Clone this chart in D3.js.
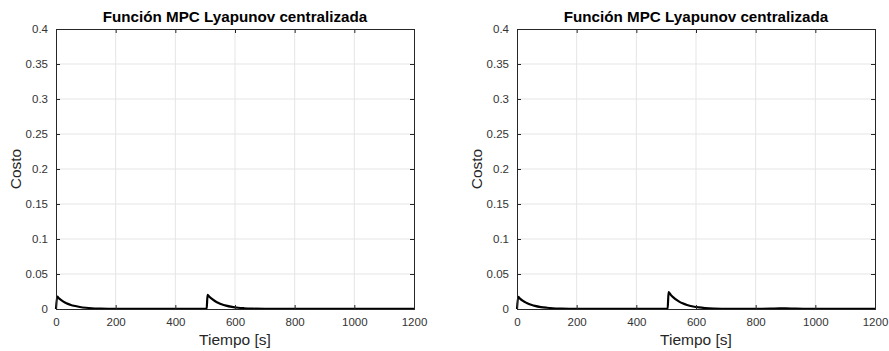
<!DOCTYPE html>
<html>
<head>
<meta charset="utf-8">
<script src="https://cdn.jsdelivr.net/npm/d3@7"></script>
<style>
  html, body { margin: 0; padding: 0; background: #fff; }
  svg { display: block; }
</style>
</head>
<body>
<svg id="chart" width="889" height="351"></svg>
<script>
// Cost of the centralized Lyapunov MPC over time, two runs
const chartTitle = "Función MPC Lyapunov centralizada";
const xLabel = "Tiempo [s]";
const yLabel = "Costo";
const xTicks = [0, 200, 400, 600, 800, 1000, 1200];
const yTicks = [0, 0.05, 0.1, 0.15, 0.2, 0.25, 0.3, 0.35, 0.4];
const yTickLabels = ["0", "0.05", "0.1", "0.15", "0.2", "0.25", "0.3", "0.35", "0.4"];

const timeA = [0, 4, 10, 20, 30, 40, 50, 60, 80, 100, 120, 150, 200, 300, 400, 505,
               508, 515, 525, 535, 545, 555, 570, 590, 610, 630, 660, 700, 800, 1000, 1200];
const costA = [0, 0.0178, 0.0152, 0.0119, 0.0093, 0.0073, 0.0058, 0.0046, 0.0029, 0.0018, 0.0011, 0.0006, 0.0002, 0.0001, 0.0001, 0.0001,
               0.0202, 0.0172, 0.0137, 0.0108, 0.0086, 0.0068, 0.0048, 0.0030, 0.0018, 0.0011, 0.0005, 0.0002, 0.0001, 0.0001, 0.0001];

const timeB = [0, 4, 10, 20, 30, 40, 50, 60, 80, 100, 120, 150, 200, 300, 400, 505,
               508, 515, 525, 535, 545, 555, 570, 590, 610, 630, 660, 700, 800, 850, 880, 900, 930, 960, 1000, 1200];
const costB = [0, 0.0172, 0.0148, 0.0116, 0.0091, 0.0072, 0.0057, 0.0045, 0.0028, 0.0018, 0.0011, 0.0006, 0.0002, 0.0001, 0.0001, 0.0001,
               0.0240, 0.0205, 0.0163, 0.0129, 0.0102, 0.0081, 0.0057, 0.0036, 0.0022, 0.0013, 0.0006, 0.0003, 0.0001, 0.0004, 0.0009, 0.0009, 0.0005, 0.0002, 0.0001, 0.0001];

const panels = [
  { left: 56, right: 414, time: timeA, cost: costA },
  { left: 517, right: 875, time: timeB, cost: costB }
];
const plotTop = 29, plotBottom = 309;
const axisColor = "#262626";
const gridColor = "#e5e5e5";
const font = "'Liberation Sans', Arial, Helvetica, sans-serif";

const svg = d3.select("#chart");

panels.forEach(p => {
  const x = d3.scaleLinear().domain([0, 1200]).range([p.left, p.right]);
  const y = d3.scaleLinear().domain([0, 0.4]).range([plotBottom, plotTop]);
  const g = svg.append("g");

  // grid
  g.append("g").selectAll("line").data(xTicks.slice(1, -1)).join("line")
    .attr("x1", d => x(d)).attr("x2", d => x(d))
    .attr("y1", plotTop).attr("y2", plotBottom)
    .attr("stroke", gridColor).attr("stroke-width", 1);
  g.append("g").selectAll("line").data(yTicks.slice(1, -1)).join("line")
    .attr("x1", p.left).attr("x2", p.right)
    .attr("y1", d => y(d)).attr("y2", d => y(d))
    .attr("stroke", gridColor).attr("stroke-width", 1);

  // data line
  const line = d3.line().x((d, i) => x(p.time[i])).y(d => y(d)).curve(d3.curveMonotoneX);
  g.append("path").datum(p.cost)
    .attr("d", line)
    .attr("fill", "none").attr("stroke", "#000").attr("stroke-width", 2.2)
    .attr("stroke-linejoin", "round");

  // axes with inward ticks (bottom/left labelled, top/right unlabelled)
  const tickLen = 4;
  const bottomAxis = d3.axisBottom(x).tickValues(xTicks).tickSize(-tickLen).tickPadding(9).tickFormat(d3.format("d"));
  const leftAxis = d3.axisLeft(y).tickValues(yTicks).tickSize(-tickLen).tickPadding(8)
    .tickFormat((d, i) => yTickLabels[i]);
  const topAxis = d3.axisTop(x).tickValues(xTicks).tickSize(-tickLen).tickFormat("");
  const rightAxis = d3.axisRight(y).tickValues(yTicks).tickSize(-tickLen).tickFormat("");

  const styleAxis = sel => {
    sel.select(".domain").attr("stroke", axisColor).attr("stroke-width", 1);
    sel.selectAll(".tick line").attr("stroke", axisColor).attr("stroke-width", 1);
    sel.selectAll(".tick text").attr("fill", "#333").style("font-family", font).style("font-size", "11.5px");
  };
  g.append("g").attr("transform", `translate(0,${plotBottom})`).call(bottomAxis).call(styleAxis);
  g.append("g").attr("transform", `translate(${p.left},0)`).call(leftAxis).call(styleAxis);
  g.append("g").attr("transform", `translate(0,${plotTop})`).call(topAxis).call(styleAxis);
  g.append("g").attr("transform", `translate(${p.right},0)`).call(rightAxis).call(styleAxis);

  const cx = (p.left + p.right) / 2;
  g.append("text").attr("x", cx).attr("y", 22)
    .attr("text-anchor", "middle").attr("fill", "#000")
    .style("font-family", font).style("font-size", "15.2px").style("font-weight", "bold")
    .text(chartTitle);
  g.append("text").attr("x", cx).attr("y", 345)
    .attr("text-anchor", "middle").attr("fill", axisColor)
    .style("font-family", font).style("font-size", "15.5px")
    .text(xLabel);
  g.append("text")
    .attr("transform", `translate(${p.left - 35},${(plotTop + plotBottom) / 2}) rotate(-90)`)
    .attr("text-anchor", "middle").attr("fill", axisColor)
    .style("font-family", font).style("font-size", "15.5px")
    .text(yLabel);
});
</script>
</body>
</html>
